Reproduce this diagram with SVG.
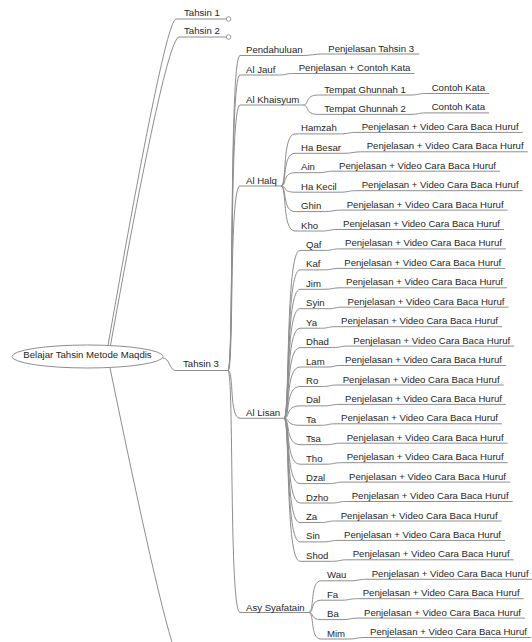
<svg xmlns="http://www.w3.org/2000/svg" width="532" height="642" viewBox="0 0 532 642">
<style>
.t{font-family:"Liberation Sans",Arial,sans-serif;font-size:9.6px;fill:#262626}
.u,.c{fill:none;stroke:#8e8e8e;stroke-width:1}
.fold{fill:#fff;stroke:#8e8e8e;stroke-width:0.9}
</style>
<rect width="532" height="642" fill="#fff"/>
<g id="connectors" class="c">
<path d="M108,345.5 Q165,19 176,19"/>
<path d="M110.5,345.2 Q166,37 179,37"/>
<path d="M162.8,358 C170,358 169,370.5 176,370.5"/>
<path d="M110,367.8 Q170,660 180,660"/>
<path d="M228,370.5 C234,370.5 229,55.5 240,55.5"/>
<path d="M228,370.5 C234,370.5 229,75 240,75"/>
<path d="M228,370.5 C234,370.5 229,105 240,105"/>
<path d="M228,370.5 C234,370.5 229,186 240,186"/>
<path d="M228,370.5 C234,370.5 229,418.3 240,418.3"/>
<path d="M228,370.5 C234,370.5 229,612.5 240,612.5"/>
<path d="M303.3,105 C309.3,105 304.3,95 318.3,95"/>
<path d="M303.3,105 C309.3,105 304.3,114.4 318.3,114.4"/>
<path d="M281,186 C287,186 282,133.9 295,133.9"/>
<path d="M281,186 C287,186 282,153.3 295,153.3"/>
<path d="M281,186 C287,186 282,172.7 295,172.7"/>
<path d="M281,186 C287,186 282,192.2 295,192.2"/>
<path d="M281,186 C287,186 282,211.6 295,211.6"/>
<path d="M281,186 C287,186 282,231 295,231"/>
<path d="M284.1,418.3 C290.1,418.3 285.1,250.4 300,250.4"/>
<path d="M284.1,418.3 C290.1,418.3 285.1,269.9 300,269.9"/>
<path d="M284.1,418.3 C290.1,418.3 285.1,289.3 300,289.3"/>
<path d="M284.1,418.3 C290.1,418.3 285.1,308.7 300,308.7"/>
<path d="M284.1,418.3 C290.1,418.3 285.1,328.2 300,328.2"/>
<path d="M284.1,418.3 C290.1,418.3 285.1,347.6 300,347.6"/>
<path d="M284.1,418.3 C290.1,418.3 285.1,367 300,367"/>
<path d="M284.1,418.3 C290.1,418.3 285.1,386.5 300,386.5"/>
<path d="M284.1,418.3 C290.1,418.3 285.1,405.9 300,405.9"/>
<path d="M284.1,418.3 C290.1,418.3 285.1,425.3 300,425.3"/>
<path d="M284.1,418.3 C290.1,418.3 285.1,444.7 300,444.7"/>
<path d="M284.1,418.3 C290.1,418.3 285.1,464.2 300,464.2"/>
<path d="M284.1,418.3 C290.1,418.3 285.1,483.6 300,483.6"/>
<path d="M284.1,418.3 C290.1,418.3 285.1,503 300,503"/>
<path d="M284.1,418.3 C290.1,418.3 285.1,522.5 300,522.5"/>
<path d="M284.1,418.3 C290.1,418.3 285.1,541.9 300,541.9"/>
<path d="M284.1,418.3 C290.1,418.3 285.1,561.3 300,561.3"/>
<path d="M308.7,612.5 C314.7,612.5 309.7,580.8 321,580.8"/>
<path d="M308.7,612.5 C314.7,612.5 309.7,600.2 321,600.2"/>
<path d="M308.7,612.5 C314.7,612.5 309.7,619.6 321,619.6"/>
<path d="M308.7,612.5 C314.7,612.5 309.7,639 321,639"/>
<path d="M303,55.5 C310,55.5 315.3,54 322.3,54"/>
<path d="M279.3,75 C286,75 286,73.5 292.7,73.5"/>
<path d="M411,95 C418,95 418.7,93.5 425.7,93.5"/>
<path d="M411,114.4 C418,114.4 418.7,112.9 425.7,112.9"/>
<path d="M340.7,133.9 C347.7,133.9 348.7,132.4 355.7,132.4"/>
<path d="M345,153.3 C352,153.3 353.7,151.8 360.7,151.8"/>
<path d="M318.9,172.7 C325.9,172.7 326,171.2 333,171.2"/>
<path d="M340.7,192.2 C347.7,192.2 348.7,190.7 355.7,190.7"/>
<path d="M325.3,211.6 C332.3,211.6 333.7,210.1 340.7,210.1"/>
<path d="M322.1,231 C329.1,231 330,229.5 337,229.5"/>
<path d="M325.5,250.4 C332.5,250.4 332,248.9 339,248.9"/>
<path d="M324.4,269.9 C331.4,269.9 331.3,268.4 338.3,268.4"/>
<path d="M324.9,289.3 C331.9,289.3 333,287.8 340,287.8"/>
<path d="M328.7,308.7 C335.7,308.7 334.5,307.2 341.5,307.2"/>
<path d="M321.7,328.2 C328.7,328.2 328,326.7 335,326.7"/>
<path d="M332.9,347.6 C339.9,347.6 340.3,346.1 347.3,346.1"/>
<path d="M328.7,367 C333.7,367 334,365.5 339,365.5"/>
<path d="M322.3,386.5 C329.3,386.5 329.7,385 336.7,385"/>
<path d="M324.4,405.9 C331.4,405.9 332,404.4 339,404.4"/>
<path d="M321.2,425.3 C328.2,425.3 328,423.8 335,423.8"/>
<path d="M326,444.7 C333,444.7 333.7,443.2 340.7,443.2"/>
<path d="M326.5,464.2 C333.5,464.2 333.7,462.7 340.7,462.7"/>
<path d="M329.2,483.6 C336.2,483.6 336,482.1 343,482.1"/>
<path d="M332.4,503 C339.4,503 338.7,501.5 345.7,501.5"/>
<path d="M321.2,522.5 C328.2,522.5 327.7,521 334.7,521"/>
<path d="M323.9,541.9 C330.9,541.9 331,540.4 338,540.4"/>
<path d="M332.4,561.3 C339.4,561.3 339.7,559.8 346.7,559.8"/>
<path d="M350.7,580.8 C357.7,580.8 358.7,579.3 365.7,579.3"/>
<path d="M342.2,600.2 C349.2,600.2 349.7,598.7 356.7,598.7"/>
<path d="M342.7,619.6 C349.7,619.6 351,618.1 358,618.1"/>
<path d="M349.1,639 C356.1,639 357,637.5 364,637.5"/>
</g>
<g id="n-root"><ellipse cx="87.5" cy="356.5" rx="75.5" ry="11.5" fill="#fff" stroke="#8e8e8e"/><text class="t" x="87.5" y="358" text-anchor="middle">Belajar Tahsin Metode Maqdis</text></g>
<g id="n-tahsin1"><path class="u" d="M176,19H226.3"/><circle class="fold" cx="228.6" cy="19" r="2.3"/><text class="t" x="184" y="16">Tahsin 1</text></g>
<g id="n-tahsin2"><path class="u" d="M179,37H226.3"/><circle class="fold" cx="228.6" cy="37" r="2.3"/><text class="t" x="184" y="34">Tahsin 2</text></g>
<g id="n-tahsin3"><path class="u" d="M176,370.5H228"/><text class="t" x="183" y="367">Tahsin 3</text></g>
<g id="n-pendahuluan"><path class="u" d="M240,55.5H303"/><text class="t" x="246" y="53">Pendahuluan</text></g>
<g id="n-pendahuluan-1"><path class="u" d="M322.3,54H419.3"/><text class="t" x="328.3" y="51.5">Penjelasan Tahsin 3</text></g>
<g id="n-aljauf"><path class="u" d="M240,75H279.3"/><text class="t" x="246" y="72.5">Al Jauf</text></g>
<g id="n-aljauf-1"><path class="u" d="M292.7,73.5H414.5"/><text class="t" x="298.7" y="71">Penjelasan + Contoh Kata</text></g>
<g id="n-alkhaisyum"><path class="u" d="M240,105H303.3"/><text class="t" x="246" y="102.5">Al Khaisyum</text></g>
<g id="n-tg1"><path class="u" d="M318.3,95H411"/><text class="t" x="324.3" y="92.5">Tempat Ghunnah 1</text></g>
<g id="n-tg1-1"><path class="u" d="M425.7,93.5H489.1"/><text class="t" x="431.7" y="91">Contoh Kata</text></g>
<g id="n-tg2"><path class="u" d="M318.3,114.4H411"/><text class="t" x="324.3" y="111.9">Tempat Ghunnah 2</text></g>
<g id="n-tg2-1"><path class="u" d="M425.7,112.9H489.1"/><text class="t" x="431.7" y="110.4">Contoh Kata</text></g>
<g id="n-alhalq"><path class="u" d="M240,186H281"/><text class="t" x="246" y="183.5">Al Halq</text></g>
<g id="n-hamzah"><path class="u" d="M295,133.9H340.7"/><text class="t" x="301" y="131.4">Hamzah</text></g>
<g id="n-hamzah-1"><path class="u" d="M355.7,132.4H522.7"/><text class="t" x="361.7" y="129.9">Penjelasan + Video Cara Baca Huruf</text></g>
<g id="n-habesar"><path class="u" d="M295,153.3H345"/><text class="t" x="301" y="150.8">Ha Besar</text></g>
<g id="n-habesar-1"><path class="u" d="M360.7,151.8H527.7"/><text class="t" x="366.7" y="149.3">Penjelasan + Video Cara Baca Huruf</text></g>
<g id="n-ain"><path class="u" d="M295,172.7H318.9"/><text class="t" x="301" y="170.2">Ain</text></g>
<g id="n-ain-1"><path class="u" d="M333,171.2H500"/><text class="t" x="339" y="168.7">Penjelasan + Video Cara Baca Huruf</text></g>
<g id="n-hakecil"><path class="u" d="M295,192.2H340.7"/><text class="t" x="301" y="189.7">Ha Kecil</text></g>
<g id="n-hakecil-1"><path class="u" d="M355.7,190.7H522.7"/><text class="t" x="361.7" y="188.2">Penjelasan + Video Cara Baca Huruf</text></g>
<g id="n-ghin"><path class="u" d="M295,211.6H325.3"/><text class="t" x="301" y="209.1">Ghin</text></g>
<g id="n-ghin-1"><path class="u" d="M340.7,210.1H507.7"/><text class="t" x="346.7" y="207.6">Penjelasan + Video Cara Baca Huruf</text></g>
<g id="n-kho"><path class="u" d="M295,231H322.1"/><text class="t" x="301" y="228.5">Kho</text></g>
<g id="n-kho-1"><path class="u" d="M337,229.5H504"/><text class="t" x="343" y="227">Penjelasan + Video Cara Baca Huruf</text></g>
<g id="n-allisan"><path class="u" d="M240,418.3H284.1"/><text class="t" x="246" y="415.8">Al Lisan</text></g>
<g id="n-qaf"><path class="u" d="M300,250.4H325.5"/><text class="t" x="306" y="247.9">Qaf</text></g>
<g id="n-qaf-1"><path class="u" d="M339,248.9H506"/><text class="t" x="345" y="246.4">Penjelasan + Video Cara Baca Huruf</text></g>
<g id="n-kaf"><path class="u" d="M300,269.9H324.4"/><text class="t" x="306" y="267.4">Kaf</text></g>
<g id="n-kaf-1"><path class="u" d="M338.3,268.4H505.3"/><text class="t" x="344.3" y="265.9">Penjelasan + Video Cara Baca Huruf</text></g>
<g id="n-jim"><path class="u" d="M300,289.3H324.9"/><text class="t" x="306" y="286.8">Jim</text></g>
<g id="n-jim-1"><path class="u" d="M340,287.8H507"/><text class="t" x="346" y="285.3">Penjelasan + Video Cara Baca Huruf</text></g>
<g id="n-syin"><path class="u" d="M300,308.7H328.7"/><text class="t" x="306" y="306.2">Syin</text></g>
<g id="n-syin-1"><path class="u" d="M341.5,307.2H508.5"/><text class="t" x="347.5" y="304.7">Penjelasan + Video Cara Baca Huruf</text></g>
<g id="n-ya"><path class="u" d="M300,328.2H321.7"/><text class="t" x="306" y="325.7">Ya</text></g>
<g id="n-ya-1"><path class="u" d="M335,326.7H502"/><text class="t" x="341" y="324.2">Penjelasan + Video Cara Baca Huruf</text></g>
<g id="n-dhad"><path class="u" d="M300,347.6H332.9"/><text class="t" x="306" y="345.1">Dhad</text></g>
<g id="n-dhad-1"><path class="u" d="M347.3,346.1H514.3"/><text class="t" x="353.3" y="343.6">Penjelasan + Video Cara Baca Huruf</text></g>
<g id="n-lam"><path class="u" d="M300,367H328.7"/><text class="t" x="306" y="364.5">Lam</text></g>
<g id="n-lam-1"><path class="u" d="M339,365.5H506"/><text class="t" x="345" y="363">Penjelasan + Video Cara Baca Huruf</text></g>
<g id="n-ro"><path class="u" d="M300,386.5H322.3"/><text class="t" x="306" y="384">Ro</text></g>
<g id="n-ro-1"><path class="u" d="M336.7,385H503.7"/><text class="t" x="342.7" y="382.5">Penjelasan + Video Cara Baca Huruf</text></g>
<g id="n-dal"><path class="u" d="M300,405.9H324.4"/><text class="t" x="306" y="403.4">Dal</text></g>
<g id="n-dal-1"><path class="u" d="M339,404.4H506"/><text class="t" x="345" y="401.9">Penjelasan + Video Cara Baca Huruf</text></g>
<g id="n-ta"><path class="u" d="M300,425.3H321.2"/><text class="t" x="306" y="422.8">Ta</text></g>
<g id="n-ta-1"><path class="u" d="M335,423.8H502"/><text class="t" x="341" y="421.3">Penjelasan + Video Cara Baca Huruf</text></g>
<g id="n-tsa"><path class="u" d="M300,444.7H326"/><text class="t" x="306" y="442.2">Tsa</text></g>
<g id="n-tsa-1"><path class="u" d="M340.7,443.2H507.7"/><text class="t" x="346.7" y="440.7">Penjelasan + Video Cara Baca Huruf</text></g>
<g id="n-tho"><path class="u" d="M300,464.2H326.5"/><text class="t" x="306" y="461.7">Tho</text></g>
<g id="n-tho-1"><path class="u" d="M340.7,462.7H507.7"/><text class="t" x="346.7" y="460.2">Penjelasan + Video Cara Baca Huruf</text></g>
<g id="n-dzal"><path class="u" d="M300,483.6H329.2"/><text class="t" x="306" y="481.1">Dzal</text></g>
<g id="n-dzal-1"><path class="u" d="M343,482.1H510"/><text class="t" x="349" y="479.6">Penjelasan + Video Cara Baca Huruf</text></g>
<g id="n-dzho"><path class="u" d="M300,503H332.4"/><text class="t" x="306" y="500.5">Dzho</text></g>
<g id="n-dzho-1"><path class="u" d="M345.7,501.5H512.7"/><text class="t" x="351.7" y="499">Penjelasan + Video Cara Baca Huruf</text></g>
<g id="n-za"><path class="u" d="M300,522.5H321.2"/><text class="t" x="306" y="520">Za</text></g>
<g id="n-za-1"><path class="u" d="M334.7,521H501.7"/><text class="t" x="340.7" y="518.5">Penjelasan + Video Cara Baca Huruf</text></g>
<g id="n-sin"><path class="u" d="M300,541.9H323.9"/><text class="t" x="306" y="539.4">Sin</text></g>
<g id="n-sin-1"><path class="u" d="M338,540.4H505"/><text class="t" x="344" y="537.9">Penjelasan + Video Cara Baca Huruf</text></g>
<g id="n-shod"><path class="u" d="M300,561.3H332.4"/><text class="t" x="306" y="558.8">Shod</text></g>
<g id="n-shod-1"><path class="u" d="M346.7,559.8H513.7"/><text class="t" x="352.7" y="557.3">Penjelasan + Video Cara Baca Huruf</text></g>
<g id="n-asysyafatain"><path class="u" d="M240,612.5H308.7"/><text class="t" x="246" y="610.5">Asy Syafatain</text></g>
<g id="n-wau"><path class="u" d="M321,580.8H350.7"/><text class="t" x="327" y="578.3">Wau</text></g>
<g id="n-wau-1"><path class="u" d="M365.7,579.3H532"/><text class="t" x="371.7" y="576.8">Penjelasan + Video Cara Baca Huruf</text></g>
<g id="n-fa"><path class="u" d="M321,600.2H342.2"/><text class="t" x="327" y="597.7">Fa</text></g>
<g id="n-fa-1"><path class="u" d="M356.7,598.7H523.7"/><text class="t" x="362.7" y="596.2">Penjelasan + Video Cara Baca Huruf</text></g>
<g id="n-ba"><path class="u" d="M321,619.6H342.7"/><text class="t" x="327" y="617.1">Ba</text></g>
<g id="n-ba-1"><path class="u" d="M358,618.1H525"/><text class="t" x="364" y="615.6">Penjelasan + Video Cara Baca Huruf</text></g>
<g id="n-mim"><path class="u" d="M321,639H349.1"/><text class="t" x="327" y="636.5">Mim</text></g>
<g id="n-mim-1"><path class="u" d="M364,637.5H531"/><text class="t" x="370" y="635">Penjelasan + Video Cara Baca Huruf</text></g>
</svg>
